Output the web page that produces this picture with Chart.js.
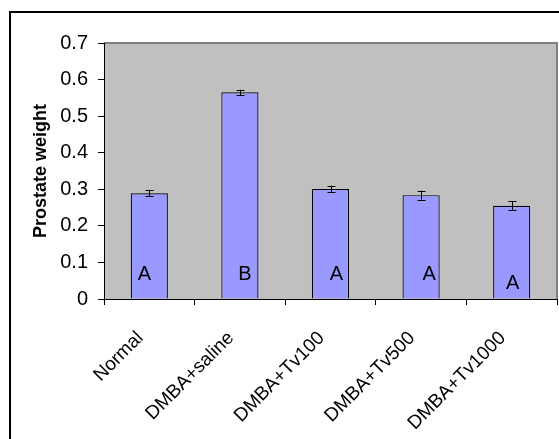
<!DOCTYPE html>
<html>
<head>
<meta charset="utf-8">
<script src="https://cdn.jsdelivr.net/npm/chart.js@4.4.0/dist/chart.umd.min.js"></script>
<style>
  html, body { margin: 0; padding: 0; background: #fff; overflow: hidden; }
  #frame { position: absolute; left: 9px; top: 11px; width: 600px; height: 500px; border: 2px solid #000; }
  #wrap { position: absolute; left: 0; top: 0; width: 559px; height: 439px; }
</style>
</head>
<body>
<div id="frame"></div>
<div id="wrap"><canvas id="weightChart" width="559" height="439"></canvas></div>
<script>
var groups = ["Normal", "DMBA+saline", "DMBA+Tv100", "DMBA+Tv500", "DMBA+Tv1000"];
var weights = [0.289, 0.565, 0.301, 0.284, 0.255];
var errors = [0.008, 0.007, 0.009, 0.012, 0.012];
var letters = ["A", "B", "A", "A", "A"];
var yTicks = [0, 0.1, 0.2, 0.3, 0.4, 0.5, 0.6, 0.7];

var font = "'Liberation Sans', Arial, sans-serif";

// gray plot background with a darker edge on top and right
var plotBox = {
  id: "plotBox",
  beforeDraw: function (chart) {
    var a = chart.chartArea, c = chart.ctx;
    c.save();
    c.fillStyle = "#c0c0c0";
    c.fillRect(a.left, a.top, a.right - a.left, a.bottom - a.top);
    c.strokeStyle = "#808080";
    c.lineWidth = 2;
    c.beginPath();
    c.moveTo(a.left, a.top);
    c.lineTo(a.right, a.top);
    c.lineTo(a.right, a.bottom);
    c.stroke();
    c.restore();
  }
};

// error bars and group letters
var extras = {
  id: "extras",
  afterDatasetsDraw: function (chart, args, opts) {
    var c = chart.ctx, y = chart.scales.y;
    var bars = chart.getDatasetMeta(0).data;
    c.save();
    c.strokeStyle = "#000";
    c.lineWidth = 1;
    bars.forEach(function (bar, i) {
      var hi = y.getPixelForValue(weights[i] + errors[i]);
      var lo = y.getPixelForValue(weights[i] - errors[i]);
      var x = Math.round(bar.x) + 0.5;
      c.beginPath();
      c.moveTo(x, hi); c.lineTo(x, lo);
      c.moveTo(x - 4, Math.round(hi) + 0.5); c.lineTo(x + 4, Math.round(hi) + 0.5);
      c.moveTo(x - 4, Math.round(lo) + 0.5); c.lineTo(x + 4, Math.round(lo) + 0.5);
      c.stroke();
    });
    c.fillStyle = "#000";
    c.font = "20px " + font;
    c.textAlign = "center";
    c.textBaseline = "middle";
    bars.forEach(function (bar, i) {
      c.fillText(letters[i], bar.x + opts.dx[i], y.bottom - opts.up[i]);
    });
    c.restore();
  }
};

var ctx = document.getElementById("weightChart").getContext("2d");
var weightChart = new Chart(ctx, {
  type: "bar",
  data: {
    labels: groups,
    datasets: [
      {
        data: weights,
        backgroundColor: "#9999ff",
        borderColor: "#000",
        borderWidth: 1.2,
        categoryPercentage: 1,
        barPercentage: 0.41,
      },
    ],
  },
  options: {
    responsive: false,
    animation: false,
    layout: { padding: { top: 43, right: 2, left: 0, bottom: 0 } },
    plugins: {
      legend: { display: false },
      tooltip: { enabled: false },
      extras: { dx: [-5, 5, 6, 8, 1], up: [25, 25, 25, 25, 16] },
    },
    scales: {
      x: {
        grid: {
          offset: true,
          drawOnChartArea: false,
          drawTicks: true,
          tickLength: 6,
          color: "#000",
        },
        border: { display: true, color: "#000", width: 1 },
        ticks: {
          color: "#000",
          font: { family: font, size: 19 },
          minRotation: 45,
          maxRotation: 45,
          padding: 22,
          labelOffset: -9,
        },
        afterFit: function (s) { s.height = 140; },
      },
      y: {
        min: 0,
        max: 0.7,
        afterBuildTicks: function (s) {
          s.ticks = yTicks.map(function (v) { return { value: v }; });
        },
        grid: {
          drawOnChartArea: false,
          drawTicks: true,
          tickLength: 6,
          color: "#000",
        },
        border: { display: true, color: "#000", width: 1 },
        ticks: {
          color: "#000",
          font: { family: font, size: 20 },
          padding: 10,
          callback: function (v) { return String(Math.round(v * 10) / 10); },
        },
        title: {
          display: true,
          text: "Prostate weight",
          color: "#000",
          font: { family: font, size: 18, weight: "bold" },
          padding: { top: 30, bottom: 0 },
        },
        afterFit: function (s) { s.width = 104; },
      },
    },
  },
  plugins: [plotBox, extras],
});
</script>
</body>
</html>
